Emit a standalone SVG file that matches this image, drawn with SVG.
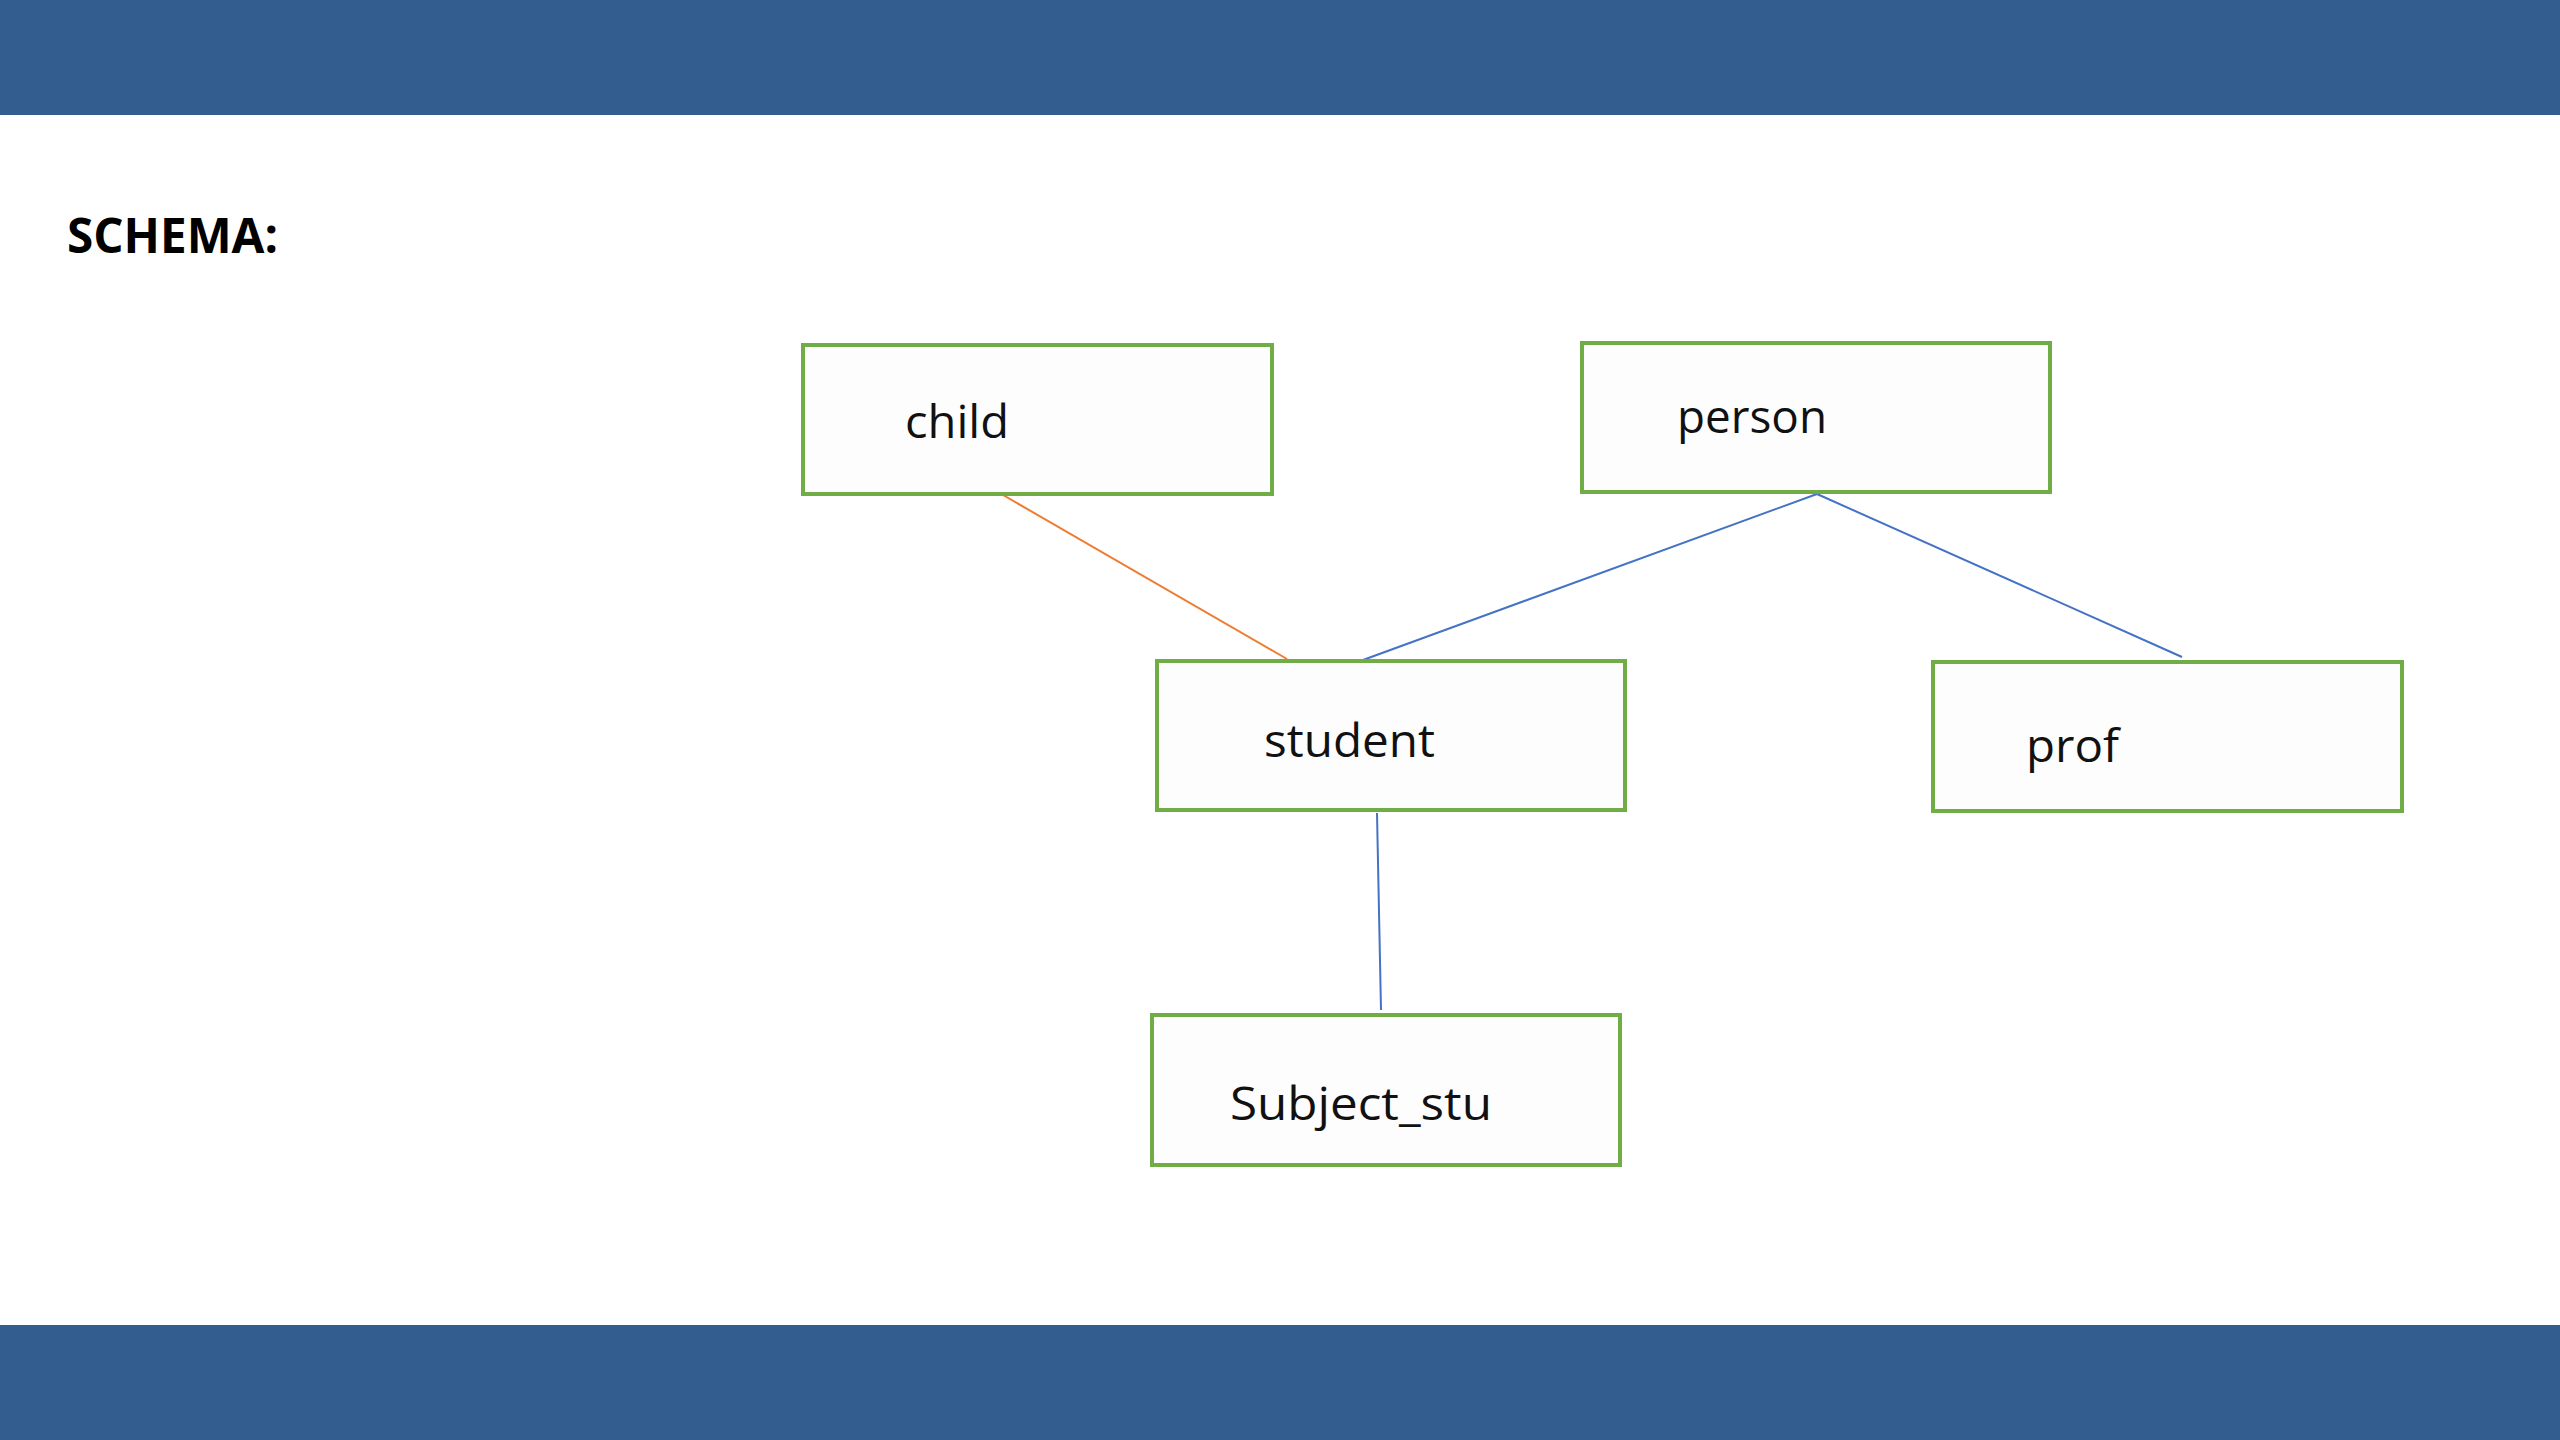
<svg xmlns="http://www.w3.org/2000/svg" width="2560" height="1440" viewBox="0 0 2560 1440">
<style>
.box{fill:#FDFDFD;stroke:#70AD47;stroke-width:4}
.lbl{font-family:"Open Sans","Liberation Sans",sans-serif;font-size:46px;fill:#111}
.ttl{font-family:"Open Sans","Liberation Sans",sans-serif;font-size:48px;font-weight:bold;fill:#000}
.bar{fill:#325D8E}
.c{fill:none;stroke-width:2}
</style>
<rect x="0" y="0" width="2560" height="1440" fill="#FFFFFF"/>
<rect class="bar" x="0" y="0" width="2560" height="115"/>
<rect class="bar" x="0" y="1325" width="2560" height="115"/>
<text class="ttl" x="67" y="253" textLength="211" lengthAdjust="spacingAndGlyphs">SCHEMA:</text>
<g id="connectors">
<line class="c" stroke="#ED7D31" x1="1003" y1="495" x2="1287" y2="659"/>
<line class="c" stroke="#4472C4" x1="1817" y1="494" x2="1363" y2="660"/>
<line class="c" stroke="#4472C4" x1="1817" y1="494" x2="2182" y2="657"/>
<line class="c" stroke="#4472C4" x1="1377" y1="813" x2="1381" y2="1010"/>
</g>
<g id="child">
<rect class="box" x="803" y="345" width="469" height="149"/>
<text class="lbl" x="905" y="438" textLength="104" lengthAdjust="spacingAndGlyphs">child</text>
</g>
<g id="person">
<rect class="box" x="1582" y="343" width="468" height="149"/>
<text class="lbl" x="1677" y="433" textLength="150" lengthAdjust="spacingAndGlyphs">person</text>
</g>
<g id="student">
<rect class="box" x="1157" y="661" width="468" height="149"/>
<text class="lbl" x="1264" y="757" textLength="171" lengthAdjust="spacingAndGlyphs">student</text>
</g>
<g id="prof">
<rect class="box" x="1933" y="662" width="469" height="149"/>
<text class="lbl" x="2026" y="762" textLength="93" lengthAdjust="spacingAndGlyphs">prof</text>
</g>
<g id="Subject_stu">
<rect class="box" x="1152" y="1015" width="468" height="150"/>
<text class="lbl" x="1230" y="1120" textLength="262" lengthAdjust="spacingAndGlyphs">Subject_stu</text>
</g>
</svg>
